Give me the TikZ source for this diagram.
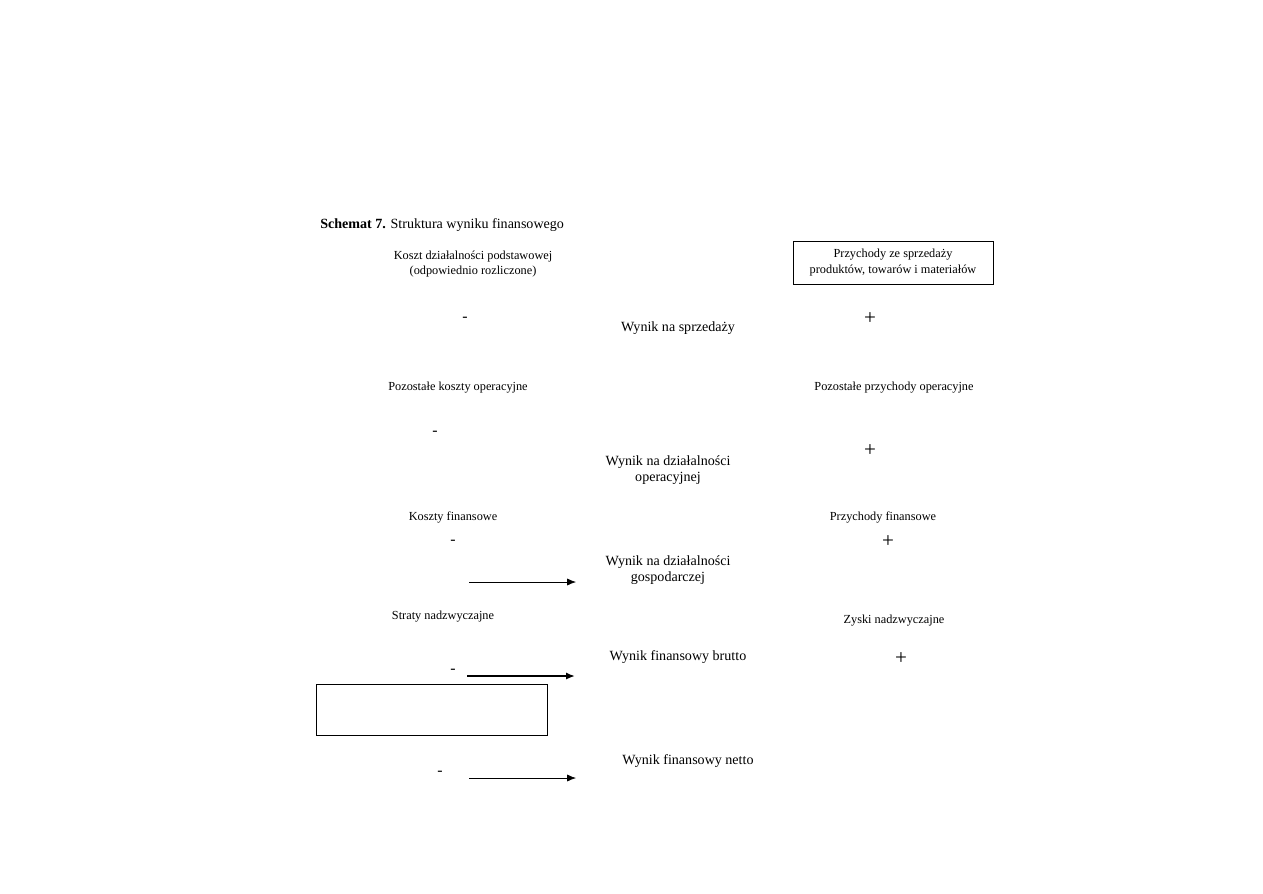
\documentclass[tikz,border=0pt]{standalone}
\usepackage{fontspec}
\setmainfont{Liberation Serif}
\usetikzlibrary{arrows.meta}
\begin{document}
\begin{tikzpicture}[x=0.02cm,y=-0.02cm,
    small/.style={font=\fontsize{7}{9}\selectfont, align=center, inner sep=1pt},
    result/.style={font=\fontsize{8}{9}\selectfont, align=center, inner sep=1pt},
    plus/.style={font=\fontsize{12}{12}\selectfont, inner sep=0pt},
    minus/.style={font=\fontsize{9}{9}\selectfont, inner sep=0pt}]
    \useasboundingbox (0,0) rectangle (1263,893);
      \node[anchor=west, font=\fontsize{8}{9}\selectfont, inner sep=0pt] (title) at (320,225) {\textbf{Schemat 7.} Struktura wyniku finansowego};
      \node[small] (koszt) at (473,264) {Koszt działalności podstawowej\\(odpowiednio rozliczone)};
      \node[small, draw, minimum width=200*0.02cm, minimum height=43*0.02cm] (przych) at (893,262.5) {Przychody ze sprzedaży\\produktów, towarów i materiałów};
      \node[minus] (m1) at (465,319) {-};
      \node[result] (wsprz) at (678,328) {Wynik na sprzedaży};
      \node[plus] (p1) at (870,319) {+};
      \node[small] (pko) at (458,388) {Pozostałe koszty operacyjne};
      \node[small] (ppo) at (894,388) {Pozostałe przychody operacyjne};
      \node[minus] (m2) at (435,433) {-};
      \node[plus] (p2) at (870,451) {+};
      \node[result] (wop) at (668,470) {Wynik na działalności\\operacyjnej};
      \node[small] (kfin) at (453,517) {Koszty finansowe};
      \node[small] (pfin) at (883,517) {Przychody finansowe};
      \node[minus] (m3) at (453,542) {-};
      \node[plus] (p3) at (888,542) {+};
      \node[result] (wgosp) at (668,570) {Wynik na działalności\\gospodarczej};
      \node[small] (straty) at (443,617) {Straty nadzwyczajne};
      \node[small] (zyski) at (894,621) {Zyski nadzwyczajne};
      \node[result] (wbrutto) at (678,657) {Wynik finansowy brutto};
      \node[plus] (p4) at (901,659) {+};
      \node[minus] (m4) at (453,671) {-};
      \node[draw, minimum width=231*0.02cm, minimum height=51*0.02cm] (empty) at (431.5,709.5) {};
      \node[result] (wnetto) at (688,761) {Wynik finansowy netto};
      \node[minus] (m5) at (440,773) {-};

      \coordinate (a1) at (469,582);
      \coordinate (b1) at (576,582);
      \coordinate (a2) at (467,676);
      \coordinate (b2) at (575,676);
      \coordinate (a3) at (469,778);
      \coordinate (b3) at (576,778);
      \draw [-{Latex[length=5pt,width=4pt]}] (a1) -- (b1);
      \draw [-{Latex[length=5pt,width=4pt]}, line width=1.2pt] (a2) -- (b2);
      \draw [-{Latex[length=5pt,width=4pt]}] (a3) -- (b3);
  \end{tikzpicture}
\end{document}
